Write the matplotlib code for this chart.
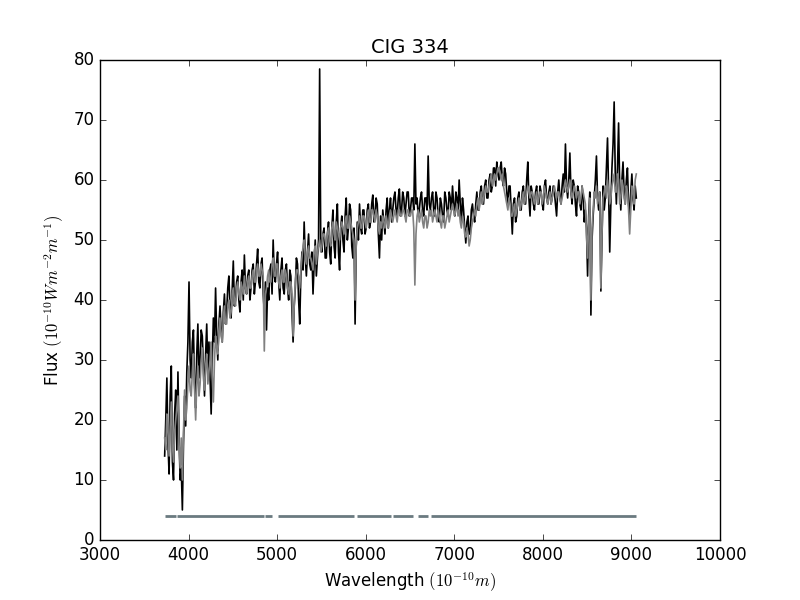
import numpy as np
import matplotlib
matplotlib.use("Agg")
import matplotlib.pyplot as plt

plt.style.use('classic')

# wavelength sampling (Angstrom): main samples every 25 A, extra samples in between
wl_start = 3730
wl_step = 25

observed = [
    14, 27, 11, 29, 10, 25, 28, 10, 5, 24,
    28, 43, 27, 35, 22, 36, 30, 34, 24, 36,
    33, 21, 37, 42, 30, 39, 33, 41, 38, 44,
    37, 46.5, 40, 44, 38, 45, 47.5, 41, 45, 42,
    46, 43, 48.5, 42, 47, 38, 35, 40, 46, 50,
    43, 48, 40, 47, 41, 46, 40, 44, 33, 42,
    46, 36, 48, 53, 44, 51, 45, 41, 50, 47,
    78.5, 48, 52, 47, 53, 46, 55, 47, 56, 45,
    54, 48, 57, 52, 55, 47, 36, 53, 56, 51,
    55, 52, 56, 53, 57.5, 54, 56, 47, 50, 53,
    55, 52, 57, 55, 58, 54, 58.5, 55, 57, 56,
    58, 55, 57, 66, 57, 55, 58, 54, 57, 64,
    55, 58, 54, 57, 53, 56, 53, 57, 54, 57,
    59, 54, 57, 60, 53, 55, 49.5, 54, 51, 56,
    53, 58, 55, 59, 56, 60, 57, 61, 59, 62,
    63, 60, 63, 59, 61, 56, 59, 51, 57, 54,
    58, 55, 59, 56, 63, 54, 58, 55, 59, 56,
    58, 55, 60, 56, 59, 57, 58, 54, 60, 56,
    61, 66, 57, 64.5, 56, 59, 54, 58, 55, 57,
    55, 44, 58, 50, 57, 64, 55, 41.5, 59, 57,
    67, 48, 62, 73, 56, 69.5, 55, 63, 56, 62,
    54, 61, 55, 57,
]

observed_mid = [
    20, 16, 24, 13, 21, 15, 17, 12, 16, 19,
    33, 30, 33, 26, 31, 27, 35, 29, 31, 28,
    27, 30, 33, 34, 36, 35, 38, 36, 42, 39,
    42, 39, 43, 40, 43, 40, 42, 44, 40, 45,
    41, 46, 43, 46, 41, 43, 42, 45, 41, 44,
    46, 43, 45, 42, 45, 42, 45, 38, 39, 47,
    40, 44, 45, 47, 48, 46, 48, 46, 44, 50,
    49, 51, 47, 51, 48, 52, 49, 53, 48, 52,
    50, 54, 50, 56, 49, 52, 49, 50, 52, 55,
    51, 55, 52, 56, 53, 57, 51, 54, 55, 51,
    57, 55, 53, 57, 55, 57, 54, 58, 54, 58,
    54, 57, 55, 56, 54, 57, 55, 57, 55, 56,
    57, 55, 58, 54, 57, 54, 58, 55, 58, 55,
    56, 58, 55, 56, 57, 52, 53, 51, 55, 54,
    56, 55, 58, 56, 59, 57, 60, 58, 62, 59,
    61, 62, 60, 62, 58, 59, 55, 56, 53, 57,
    55, 58, 56, 60, 57, 59, 56, 58, 56, 59,
    56, 59, 57, 58, 56, 59, 56, 58, 57, 59,
    58, 59, 60, 58, 60, 56, 59, 56, 59, 53,
    52, 54, 37.5, 54, 60, 57, 58, 50, 55, 62,
    58, 56, 66, 61, 62, 59, 60, 58, 60, 56,
    58, 57, 59,
]

model = [
    17, 21, 14, 23, 13, 20, 24, 12, 10, 25,
    22, 29, 24, 31, 20, 29, 26, 32, 25, 31,
    28, 33, 23, 34, 31, 37, 33, 39, 36, 40,
    38, 42, 39, 43, 40, 42, 44, 41, 44, 42,
    45, 43, 46, 44, 45, 31.5, 42, 45, 43, 47,
    44, 46, 42, 45, 43, 44, 41, 43, 34, 43,
    45, 42, 47, 50, 46, 49, 47, 45, 49, 48,
    50, 49, 51, 49, 52, 49, 53, 50, 52, 50,
    53, 51, 54, 52, 53, 51, 40, 52, 54, 52,
    54, 52, 55, 53, 55, 53, 54, 51, 52, 53,
    54, 52, 55, 53, 55, 53, 55, 54, 55, 53,
    55, 54, 55, 42.5, 54, 53, 55, 52, 54, 53,
    54, 53, 55, 53, 54, 52, 54, 53, 55, 54,
    56, 54, 56, 55, 52, 53, 50.5, 51, 50, 53,
    55, 56, 55, 58, 57, 59, 58, 60, 59, 61,
    61, 62, 60, 59, 57, 55, 56, 54, 56, 55,
    57, 56, 58, 57, 59, 57, 58, 56, 58, 57,
    58, 57, 58, 56, 58, 57, 59, 57, 58, 56,
    58, 60, 58, 60, 57, 59, 57, 58, 57, 58,
    56, 47, 57, 52, 58, 59, 57, 42, 57, 59,
    60, 56, 59, 61, 58, 60, 57, 59, 56, 58,
    51, 59, 56, 61,
]

model_mid = [
    15, 18, 19, 16, 18, 22, 16, 17, 18, 20,
    26, 25, 28, 25, 26, 24, 30, 27, 29, 26,
    30, 27, 30, 32, 35, 34, 37, 36, 39, 37,
    41, 40, 42, 41, 43, 41, 42, 43, 42, 44,
    43, 45, 44, 46, 44, 41, 44, 43, 46, 44,
    46, 43, 44, 43, 45, 42, 43, 41, 39, 45,
    44, 45, 49, 47, 48, 47, 46, 48, 46, 49,
    48, 51, 50, 51, 50, 52, 51, 53, 51, 52,
    52, 53, 52, 54, 52, 50, 49, 53, 52, 54,
    53, 54, 53, 55, 54, 55, 52, 53, 54, 52,
    53, 54, 54, 54, 54, 55, 54, 55, 54, 55,
    54, 55, 52, 51, 55, 54, 53, 54, 52, 55,
    55, 54, 54, 55, 53, 54, 52, 54, 53, 55,
    55, 55, 54, 53, 54, 51, 52, 49, 52, 54,
    54, 57, 57, 56, 58, 58, 59, 61, 60, 60,
    62, 61, 61, 58, 56, 57, 54, 55, 54, 56,
    55, 57, 56, 58, 58, 58, 57, 57, 56, 58,
    56, 59, 57, 57, 56, 58, 58, 58, 57, 57,
    59, 59, 59, 58, 58, 58, 58, 56, 59, 57,
    51, 53, 40, 55, 57, 56, 58, 51, 58, 57,
    58, 57, 60, 58, 61, 56, 60, 57, 59, 55,
    55, 58, 60,
]

# masked / fitted wavelength ranges shown at the bottom
seg_start = [3734, 3869, 4863, 5010, 5902, 6308, 6590, 6737]
seg_end = [3858, 4852, 4942, 5864, 6282, 6530, 6700, 9048]
seg_level = 4

title = "CIG 334"


def interleave(main, mid):
    out = np.empty(len(main) + len(mid))
    out[0::2] = main
    out[1::2] = mid
    return out


obs_all = interleave(observed, observed_mid)
mod_all = interleave(model, model_mid)
wl = wl_start + (wl_step / 2.0) * np.arange(len(obs_all))

fig = plt.figure(figsize=(8, 6), dpi=100)
ax = fig.add_subplot(111)
ax.plot(wl, obs_all, color='black', lw=1.2)
ax.plot(wl, mod_all, color='0.5', lw=1.2)
ax.hlines([seg_level] * len(seg_start), seg_start, seg_end, colors='#6a7a80', lw=2)

ax.set_xlim(3000, 10000)
ax.set_ylim(0, 80)
ax.set_title(title, fontsize=14)
ax.set_xlabel(r'Wavelength $(10^{-10}m)$', fontsize=12)
ax.set_ylabel(r'Flux $(10^{-10}Wm^{-2}m^{-1})$', fontsize=12)

fig.savefig('out.png', dpi=100)
